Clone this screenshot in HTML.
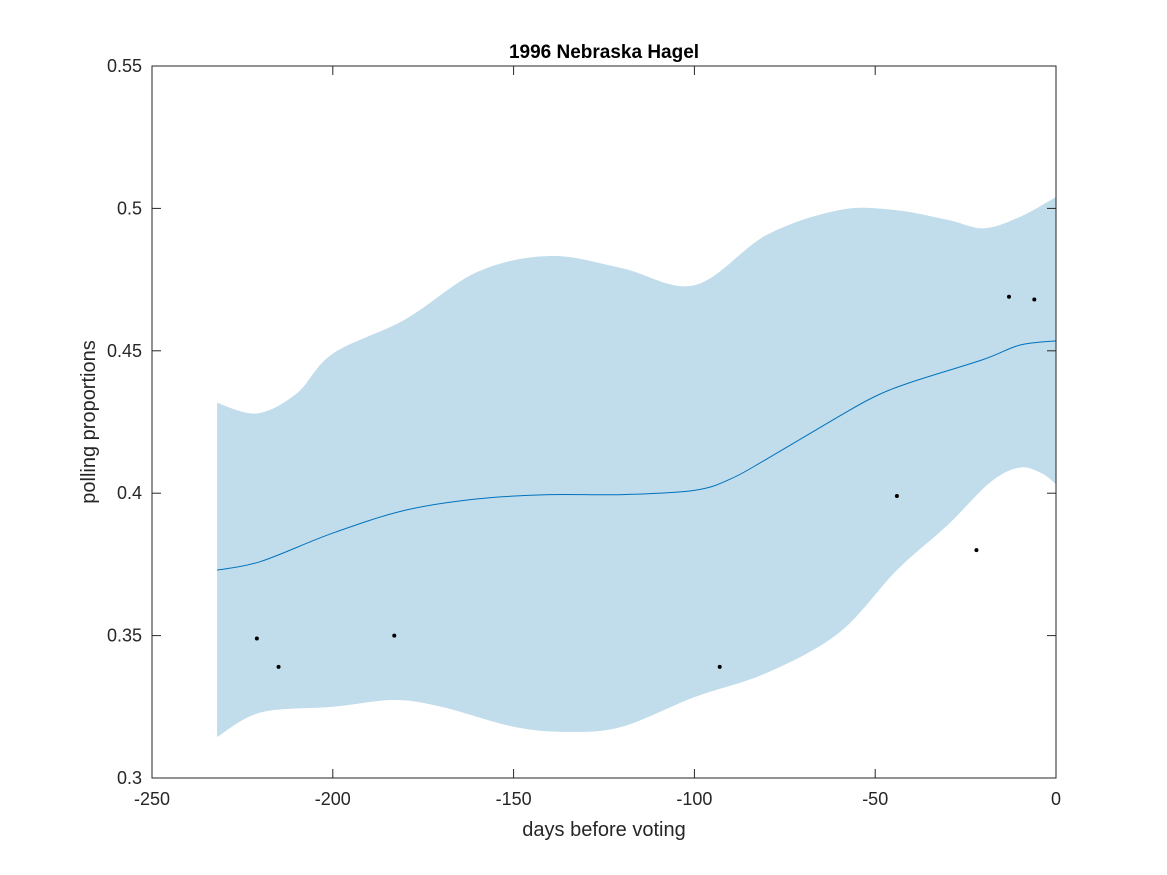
<!DOCTYPE html>
<html><head><meta charset="utf-8"><style>
body{margin:0;background:#fff;}
svg{display:block;font-family:"Liberation Sans",sans-serif;}
</style></head><body>
<svg id="chart" width="1167" height="875">
<rect width="1167" height="875" fill="#fff"/>
<g id="plot"></g>
</svg>
<script>
const upX=[-232,-221,-210,-200,-180,-160,-140,-120,-100,-80,-60,-45,-30,-20,-10,0];
const upperY=[0.4317,0.428,0.435,0.449,0.461,0.4777,0.4833,0.479,0.473,0.4907,0.4994,0.4995,0.496,0.493,0.497,0.504];
const loX=[-232,-220,-200,-183,-170,-150,-135,-120,-100,-80,-60,-44,-30,-18,-10,-4,0];
const lowerY=[0.3144,0.323,0.325,0.3274,0.325,0.318,0.3162,0.318,0.3284,0.3369,0.351,0.373,0.3888,0.404,0.409,0.407,0.4032];
const meanX=[-232,-220,-200,-180,-160,-140,-120,-100,-90,-80,-60,-50,-40,-20,-10,0];
const meanY=[0.373,0.376,0.386,0.394,0.398,0.3995,0.3995,0.401,0.405,0.412,0.427,0.434,0.439,0.447,0.452,0.4535];
const ptX=[-221,-215,-183,-93,-44,-22,-13,-6];
const ptY=[0.349,0.339,0.350,0.339,0.399,0.380,0.469,0.468];
const xTicks=[-250,-200,-150,-100,-50,0];
const yTicks=[0.3,0.35,0.4,0.45,0.5,0.55];
const yTickLabels=["0.3","0.35","0.4","0.45","0.5","0.55"];

const L=152,R=1056,T=66,B=778;
const sx=v=>L+(v+250)/250*(R-L);
const sy=v=>B-(v-0.3)/0.25*(B-T);
const NS="http://www.w3.org/2000/svg";
const g=document.getElementById('plot');
function mk(tag,attrs,parent){const e=document.createElementNS(NS,tag);for(const k in attrs)e.setAttribute(k,attrs[k]);(parent||g).appendChild(e);return e;}
function smooth(pts,start){let d=start?'M':'L';d+=pts[0][0]+','+pts[0][1];
 for(let i=0;i<pts.length-1;i++){const p0=pts[Math.max(i-1,0)],p1=pts[i],p2=pts[i+1],p3=pts[Math.min(i+2,pts.length-1)];
 const c1=[p1[0]+(p2[0]-p0[0])/6,p1[1]+(p2[1]-p0[1])/6],c2=[p2[0]-(p3[0]-p1[0])/6,p2[1]-(p3[1]-p1[1])/6];
 d+=' C'+c1+' '+c2+' '+p2;}return d;}
const up=upX.map((x,i)=>[sx(x),sy(upperY[i])]);
const lo=loX.map((x,i)=>[sx(x),sy(lowerY[i])]).reverse();
const band=mk('path',{d:smooth(up,true)+' '+smooth(lo,false)+' Z',fill:'#c1dceb',stroke:'none'});


const mean=mk('path',{d:smooth(meanX.map((x,i)=>[sx(x),sy(meanY[i])]),true),fill:'none',stroke:'#0072bd','stroke-width':1});


ptX.forEach((x,i)=>{const c=mk('circle',{cx:sx(x),cy:sy(ptY[i]),r:2,fill:'#000'});

});
const box=mk('rect',{x:L,y:T,width:R-L,height:B-T,fill:'none',stroke:'#262626','stroke-width':1});


xTicks.forEach(t=>{const x=sx(t);mk('line',{x1:x,x2:x,y1:B,y2:B-9,stroke:'#262626'});mk('line',{x1:x,x2:x,y1:T,y2:T+9,stroke:'#262626'});
const tx=mk('text',{x:x,y:B+27,'text-anchor':'middle','font-size':18,fill:'#262626'});tx.textContent=t;

});
yTicks.forEach((t,i)=>{const y=sy(t);mk('line',{x1:L,x2:L+9,y1:y,y2:y,stroke:'#262626'});mk('line',{x1:R,x2:R-9,y1:y,y2:y,stroke:'#262626'});
const tx=mk('text',{x:L-10,y:y+6,'text-anchor':'end','font-size':18,fill:'#262626'});tx.textContent=yTickLabels[i];

});
const title=mk('text',{x:(L+R)/2,y:58,'text-anchor':'middle','font-size':19,'font-weight':'bold',fill:'#000'});title.textContent='1996 Nebraska Hagel';


const xl=mk('text',{x:(L+R)/2,y:836,'text-anchor':'middle','font-size':20,fill:'#262626'});xl.textContent='days before voting';


const yl=mk('text',{x:95,y:(T+B)/2,'text-anchor':'middle','font-size':20,fill:'#262626',transform:'rotate(-90 95 '+((T+B)/2)+')'});yl.textContent='polling proportions';


</script>
</body></html>
